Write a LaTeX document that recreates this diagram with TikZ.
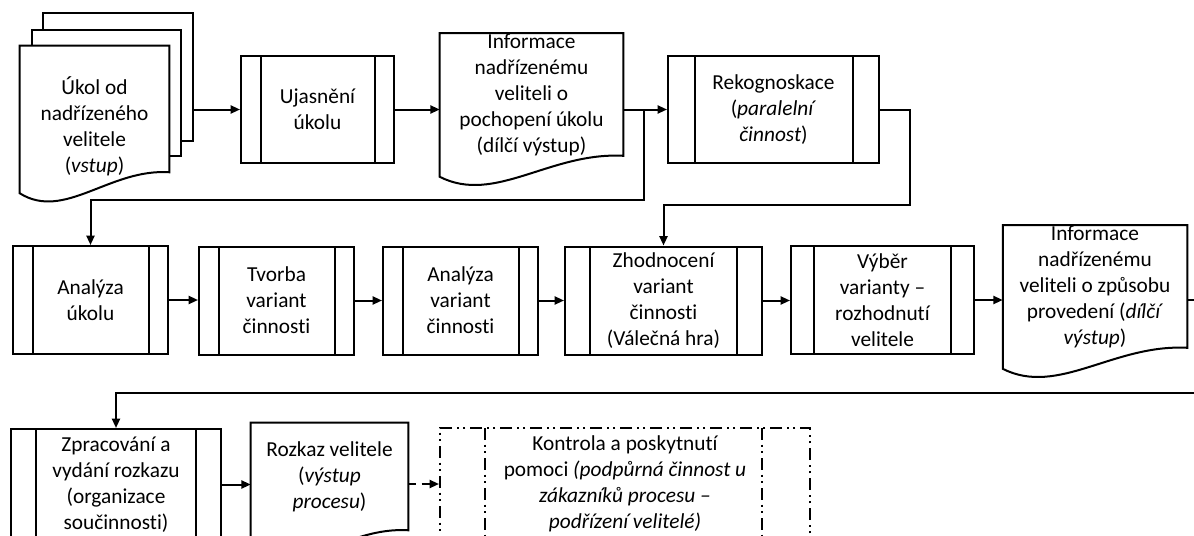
\documentclass[tikz,border=0pt]{standalone}
\usepackage{fontspec}
\setmainfont{Carlito}[Ligatures=NoCommon]
\usetikzlibrary{arrows.meta,calc}

% outline of a flowchart "document" shape hung on a named node:
% #1 extra options, #2 node name, #3 node width (in picture units)
\newcommand\flowdoc[3][]{%
  \draw[outline,#1] (#2.south east) -- (#2.north east) -- (#2.north west)
    -- ([shift={(0,21)}]#2.south west)
    .. controls +(0.3*#3,28) and +(-0.4*#3,-4) .. (#2.south east) -- cycle;}

\begin{document}
\begin{tikzpicture}[x=0.75pt,y=-0.75pt,
  every node/.style={font=\fontsize{16}{19.5}\selectfont, align=center, inner sep=0pt},
  outline/.style={line width=1.5pt, draw=black},
  box/.style={outline, fill=white},
  sheet/.style={box, rectangle},
  doc/.style={rectangle, draw=none},
  proc/.style 2 args={box, rectangle, path picture={
      \draw[line width=1.5pt] ([xshift=#1]path picture bounding box.north west) -- ([xshift=#1]path picture bounding box.south west);
      \draw[line width=1.5pt] ([xshift=-#2]path picture bounding box.north east) -- ([xshift=-#2]path picture bounding box.south east);}},
  dashdot/.style={dash pattern=on 9pt off 3.5pt on 1.5pt off 3.5pt on 1.5pt off 3.5pt},
  support/.style={outline, rectangle, dashdot, path picture={
      \draw[line width=1.5pt, dashdot] ([xshift=33.75pt]path picture bounding box.north west) -- ([xshift=33.75pt]path picture bounding box.south west);
      \draw[line width=1.5pt, dashdot] ([xshift=-36pt]path picture bounding box.north east) -- ([xshift=-36pt]path picture bounding box.south east);}},
  line/.style={line width=1.5pt},
  conn/.style={line, -{Triangle[length=7pt,width=6pt]}},
  dconn/.style={conn, dash pattern=on 6pt off 4pt},
]
\useasboundingbox (0,0) rectangle (1194,535);
\clip (0,0) rectangle (1194,535);

% --- row 1 ---
% stacked input documents
\node[sheet, minimum width=112.5pt, minimum height=96pt] (sheet3) at (118,77) {};
\node[sheet, minimum width=111.75pt, minimum height=94.5pt] (sheet2) at (106.5,93) {};
\node[doc, minimum width=111.75pt, minimum height=94.5pt] (task) at (94.5,109) {};
\flowdoc[fill=white]{task}{149}
\node (tasklabel) at (94.5,126) {Úkol od\\nadřízeného\\velitele\\(\textit{vstup})};

\node[proc={15pt}{14.25pt}, minimum width=114.75pt, minimum height=80.25pt] (ujas) at (317.5,109.5)
  {Ujasnění\\úkolu};

\node[doc, minimum width=137.25pt, minimum height=90.75pt] (info1) at (531.5,94.5)
  {Informace\\nadřízenému\\veliteli o\\pochopení úkolu\\(dílčí výstup)};
\flowdoc{info1}{183}

\node[proc={20.25pt}{19.5pt}, minimum width=158.25pt, minimum height=80.25pt] (rek) at (773.5,109.5)
  {Rekognoskace\\(\textit{paralelní}\\\textit{činnost})};

% --- row 2 ---
\node[proc={15pt}{14.25pt}, minimum width=116.25pt, minimum height=81pt] (anal) at (90.5,300)
  {Analýza\\úkolu};
\node[proc={15pt}{14.25pt}, minimum width=116.25pt, minimum height=81pt] (tvorba) at (276.5,300.5)
  {Tvorba\\variant\\činnosti};
\node[proc={15pt}{14.25pt}, minimum width=116.25pt, minimum height=81pt] (anvar) at (460.5,300.5)
  {Analýza\\variant\\činnosti};
\node[proc={18.75pt}{18.75pt}, minimum width=147.75pt, minimum height=81pt] (zhod) at (663.5,300.5)
  {Zhodnocení\\variant\\činnosti\\(Válečná hra)};
\node[proc={17.25pt}{17.25pt}, minimum width=137.25pt, minimum height=81pt] (vyber) at (882.5,300)
  {Výběr\\varianty –\\rozhodnutí\\velitele};
\node[doc, minimum width=138pt, minimum height=89.25pt] (info2) at (1095,286.5)
  {Informace\\nadřízenému\\veliteli o způsobu\\provedení (\textit{dílčí}\\\textit{výstup})};
\flowdoc{info2}{184}

% --- row 3 ---
\node[proc={18.75pt}{18.75pt}, minimum width=157.5pt, minimum height=83.25pt] (zpr) at (116,484.5)
  {Zpracování a\\vydání rozkazu\\(organizace\\součinnosti)};
\node[doc, minimum width=117.75pt, minimum height=80.25pt] (rozkaz) at (329.5,476.5)
  {Rozkaz velitele\\(\textit{výstup}\\\textit{procesu})};
\flowdoc{rozkaz}{157}
\node[support, minimum width=277.5pt, minimum height=84pt] (kontrola) at (625,484)
  {Kontrola a poskytnutí\\pomoci \textit{(podpůrná činnost u}\\\textit{zákazníků procesu –}\\\textit{podřízení velitelé)}};

% --- connectors ---
\draw[conn] (sheet3.east |- ujas.west) -- (ujas.west);
\draw[conn] (ujas.east) -- (ujas.east -| info1.west);
\draw[conn] (info1.east |- rek.west) -- (rek.west);
\coordinate (fork) at ($(info1.east |- rek.west)!0.47!(rek.west)$);
\draw[conn] (fork) -- ++(0,90) -| (anal.north);
\draw[conn] (rek.east) -- ++(30,0) -- ++(0,95.5) -| (zhod.north);

\draw[conn] (anal.east) -- (anal.east -| tvorba.west);
\draw[conn] (tvorba.east) -- (tvorba.east -| anvar.west);
\draw[conn] (anvar.east) -- (anvar.east -| zhod.west);
\draw[conn] (zhod.east) -- (zhod.east -| vyber.west);
\draw[conn] (vyber.east) -- (vyber.east -| info2.west);
\draw[conn] (info2.east |- vyber.east) -- ++(28,0) -- ++(0,93) -| (zpr.north);

\draw[conn] (zpr.east) -- (zpr.east -| rozkaz.west);
\draw[dconn] (rozkaz.east |- kontrola.west) -- (kontrola.west);
\end{tikzpicture}
\end{document}
